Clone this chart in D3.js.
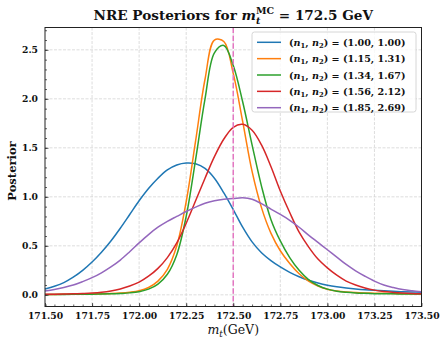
<!DOCTYPE html>
<html><head><meta charset="utf-8">
<script src="https://cdn.jsdelivr.net/npm/d3@7"></script>
<style>body{margin:0;background:#fff}svg{display:block}</style>
</head><body><svg id="c" width="447" height="346"></svg>
<script>
// ---------- data ----------
const massGrid = [171.50,171.55,171.60,171.65,171.70,171.75,171.80,171.85,171.90,171.95,
  172.00,172.05,172.10,172.15,172.20,172.25,172.30,172.35,172.40,172.45,
  172.50,172.55,172.60,172.65,172.70,172.75,172.80,172.85,172.90,172.95,
  173.00,173.05,173.10,173.15,173.20,173.25,173.30,173.35,173.40,173.45,173.50];

const seriesLabels = ["(1.00, 1.00)","(1.15, 1.31)","(1.34, 1.67)","(1.56, 2.12)","(1.85, 2.69)"];
const seriesColors = ["#1f77b4","#ff7f0e","#2ca02c","#d62728","#9467bd"];

const post_100_100 = [0.06,0.088,0.125,0.18,0.25,0.335,0.435,0.55,0.68,0.82,
  0.96,1.085,1.19,1.275,1.325,1.345,1.337,1.29,1.19,1.04,
  0.87,0.69,0.54,0.43,0.35,0.285,0.23,0.185,0.148,0.12,
  0.098,0.082,0.07,0.06,0.052,0.046,0.041,0.036,0.032,0.029,0.026];
const post_115_131 = [0.003,0.004,0.005,0.006,0.007,0.008,0.010,0.013,0.018,0.027,
  0.042,0.075,0.14,0.26,0.50,0.95,1.57,2.20,2.60,2.585,
  2.26,1.77,1.26,0.89,0.63,0.45,0.32,0.215,0.14,0.09,
  0.058,0.04,0.03,0.024,0.02,0.017,0.015,0.013,0.012,0.011,0.01];
const post_134_167 = [0.002,0.003,0.004,0.005,0.006,0.007,0.008,0.010,0.014,0.020,
  0.032,0.058,0.11,0.21,0.41,0.80,1.38,2.00,2.47,2.545,
  2.34,1.97,1.53,1.11,0.77,0.55,0.38,0.25,0.155,0.095,
  0.058,0.037,0.026,0.019,0.015,0.012,0.011,0.010,0.009,0.009,0.008];
const post_156_212 = [0.005,0.006,0.008,0.010,0.014,0.019,0.027,0.040,0.060,0.090,
  0.13,0.19,0.27,0.38,0.53,0.73,0.96,1.19,1.41,1.59,
  1.71,1.74,1.68,1.53,1.31,1.06,0.84,0.64,0.49,0.365,
  0.275,0.20,0.14,0.10,0.07,0.048,0.034,0.025,0.018,0.013,0.010];
const post_185_269 = [0.04,0.055,0.075,0.10,0.135,0.175,0.225,0.285,0.355,0.44,
  0.53,0.615,0.69,0.75,0.80,0.85,0.895,0.935,0.96,0.975,
  0.982,0.99,0.975,0.93,0.875,0.82,0.76,0.69,0.61,0.535,
  0.46,0.385,0.31,0.245,0.19,0.14,0.10,0.075,0.055,0.042,0.032];
const seriesValues = [post_100_100, post_115_131, post_134_167, post_156_212, post_185_269];

const xMajorTicks = [171.50,171.75,172.00,172.25,172.50,172.75,173.00,173.25,173.50];
const yMajorTicks = [0.0,0.5,1.0,1.5,2.0,2.5];
const mcMass = 172.5;

// ---------- layout ----------
const L = 45, R = 421.5, T = 27.5, B = 306.5;
const svg = d3.select("#c");
const x = d3.scaleLinear().domain([171.5, 173.5]).range([L, R]);
const y = d3.scaleLinear().domain([-0.119, 2.728]).range([B, T]);
const serif = "'DejaVu Serif', serif";

// grid
const grid = svg.append("g").attr("stroke", "#d4d4d4").attr("stroke-width", 0.8).attr("stroke-dasharray", "3,1.5");
grid.selectAll(".gx").data(xMajorTicks.slice(1, -1)).join("line")
  .attr("x1", d => x(d)).attr("x2", d => x(d)).attr("y1", T).attr("y2", B);
grid.selectAll(".gy").data(yMajorTicks).join("line")
  .attr("x1", L).attr("x2", R).attr("y1", d => y(d)).attr("y2", d => y(d));

// curves
const line = d3.line().x((d, i) => x(massGrid[i])).y(d => y(d)).curve(d3.curveCatmullRom.alpha(0.5));
svg.append("g").selectAll("path").data(seriesValues).join("path")
  .attr("d", d => line(d)).attr("fill", "none")
  .attr("stroke", (d, i) => seriesColors[i]).attr("stroke-width", 1.5)
  .attr("stroke-linejoin", "round");

// MC mass line
svg.append("line").attr("x1", x(mcMass)).attr("x2", x(mcMass)).attr("y1", T).attr("y2", B)
  .attr("stroke", "#e377c2").attr("stroke-width", 1.5).attr("stroke-dasharray", "5.5,2.4");

// axes
function styleAxis(g) {
  g.select(".domain").remove();
  g.selectAll(".tick line").attr("stroke", "#333").attr("stroke-width", 0.8);
  g.selectAll("text").attr("font-family", serif).attr("font-weight", "bold").attr("font-size", 9.2).attr("fill", "#111");
}
svg.append("g").attr("transform", `translate(0,${B})`)
  .call(d3.axisBottom(x).tickValues(xMajorTicks).tickFormat(d3.format(".2f")).tickSize(-3.5).tickPadding(6))
  .call(styleAxis);
svg.append("g").attr("transform", `translate(0,${B})`)
  .call(d3.axisBottom(x).tickValues(d3.range(171.55, 173.5, 0.05)).tickFormat("").tickSize(-2))
  .call(styleAxis);
svg.append("g").attr("transform", `translate(${L},0)`)
  .call(d3.axisLeft(y).tickValues(yMajorTicks).tickFormat(d3.format(".1f")).tickSize(-3.5).tickPadding(7))
  .call(styleAxis);
svg.append("g").attr("transform", `translate(${L},0)`)
  .call(d3.axisLeft(y).tickValues(d3.range(-0.1, 2.71, 0.1)).tickFormat("").tickSize(-2))
  .call(styleAxis);

// frame
svg.append("rect").attr("x", L).attr("y", T).attr("width", R - L).attr("height", B - T)
  .attr("fill", "none").attr("stroke", "#222").attr("stroke-width", 1);

// legend
const lg = svg.append("g");
lg.append("rect").attr("x", 252).attr("y", 32).attr("width", 164).attr("height", 80).attr("rx", 2.5)
  .attr("fill", "#fff").attr("fill-opacity", 0.8).attr("stroke", "#cccccc").attr("stroke-width", 0.8);
seriesLabels.forEach((lab, i) => {
  const ry = 42.3 + i * 16.35;
  lg.append("line").attr("x1", 257).attr("x2", 281).attr("y1", ry).attr("y2", ry)
    .attr("stroke", seriesColors[i]).attr("stroke-width", 1.5);
  const t = lg.append("text").attr("x", 289).attr("y", ry + 3.5)
    .attr("font-family", serif).attr("font-weight", "bold").attr("font-size", 9.6).attr("fill", "#111");
  t.append("tspan").text("(");
  t.append("tspan").attr("font-style", "italic").text("n");
  t.append("tspan").attr("font-size", 6.8).attr("dy", 2.2).text("1");
  t.append("tspan").attr("dy", -2.2).text(", ");
  t.append("tspan").attr("font-style", "italic").text("n");
  t.append("tspan").attr("font-size", 6.8).attr("dy", 2.2).text("2");
  t.append("tspan").attr("dy", -2.2).text(") = " + lab);
});

// title
const title = svg.append("text").attr("x", (L + R) / 2).attr("y", 20).attr("text-anchor", "middle")
  .attr("font-family", serif).attr("font-weight", "bold").attr("font-size", 13.6).attr("fill", "#111");
title.append("tspan").text("NRE Posteriors for ");
title.append("tspan").attr("font-style", "italic").text("m");
const sub = title.append("tspan").attr("font-style", "italic").attr("font-size", 9.5).attr("dy", 3.5).text("t");
const sup = title.append("tspan").attr("font-size", 9.5).attr("dy", -10).text("MC");
sup.attr("dx", -sub.node().getComputedTextLength());
title.append("tspan").attr("dy", 6.5).text(" = 172.5 GeV");

// x label
const xl = svg.append("text").attr("x", (L + R) / 2).attr("y", 334).attr("text-anchor", "middle")
  .attr("font-family", serif).attr("font-size", 12.5).attr("fill", "#111");
xl.append("tspan").attr("font-style", "italic").text("m");
xl.append("tspan").attr("font-style", "italic").attr("font-size", 8.8).attr("dy", 2.5).text("t");
xl.append("tspan").attr("dy", -2.5).text("(GeV)");

// y label
svg.append("text").attr("transform", `translate(16,${(T + B) / 2 + 4}) rotate(-90)`).attr("text-anchor", "middle")
  .attr("font-family", serif).attr("font-weight", "bold").attr("font-size", 11.5).attr("fill", "#111")
  .text("Posterior");
</script></body></html>
